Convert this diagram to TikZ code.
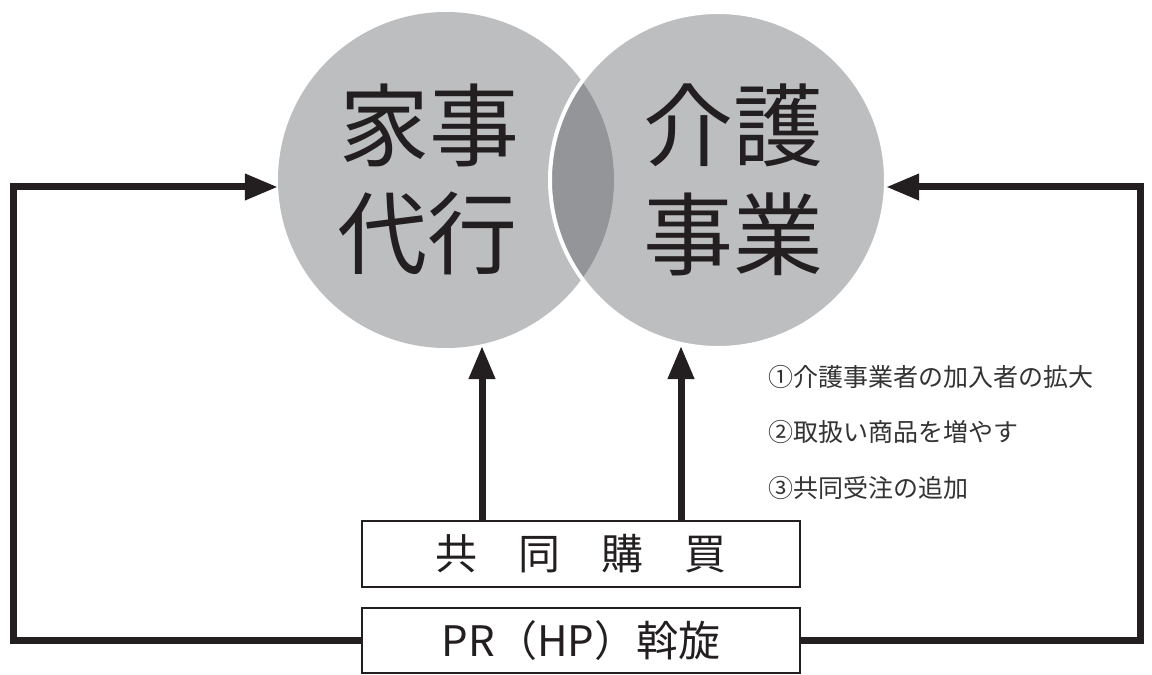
\documentclass[tikz,border=0pt]{standalone}
\usepackage{fontspec}
\newfontfamily\jp{Noto Sans CJK JP}
\usetikzlibrary{arrows.meta,calc}
\definecolor{circgray}{HTML}{BCBEC0}
\definecolor{lensgray}{HTML}{939598}
\definecolor{ink}{HTML}{231F20}
\begin{document}
\begin{tikzpicture}[x=1bp,y=-1bp,
  vcircle/.style={circle,minimum size=336bp,inner sep=0pt,fill=circgray},
  bigtext/.style={font=\jp\fontsize{90bp}{100bp}\selectfont,text=ink,inner sep=0pt},
  listtext/.style={font=\jp\fontsize{25bp}{30bp}\selectfont,text=black!80,anchor=west,inner sep=0pt},
  boxnode/.style={draw=ink,line width=1.8bp,fill=white,minimum width=438bp,inner sep=0pt,font=\jp\fontsize{42bp}{48bp}\selectfont,text=ink},
  arr/.style={draw=ink,line width=7bp,-{Triangle[length=33bp,width=25bp]}},
  conn/.style={draw=ink,line width=7bp}
]
\useasboundingbox (0,0) rectangle (1152,675);
% circles
\node[vcircle] (L) at (446,180) {};
\node[vcircle] (R) at (718,180) {};
\begin{scope}
  \clip (446,180) circle (168bp);
  \fill[lensgray] (718,180) circle (168bp);
\end{scope}
\draw[white,line width=4bp] (718,180) circle (168bp);
% circle texts
\node[bigtext] (t1) at (429,125) {家事};
\node[bigtext] (t2) at (427,233) {代行};
\node[bigtext] (t3) at (733,125) {介護};
\node[bigtext] (t4) at (733,234) {事業};
% list
\node[listtext] (l1) at (768,377) {①介護事業者の加入者の拡大};
\node[listtext] (l2) at (768,432) {②取扱い商品を増やす};
\node[listtext] (l3) at (768,488) {③共同受注の追加};
% boxes
\node[boxnode,minimum height=66bp] (B) at (581,554) {共\hspace{41bp}同\hspace{41bp}購\hspace{41bp}買};
\node[boxnode,minimum height=65bp] (P) at (581,640.5) {PR（HP）斡旋};
% connectors
\coordinate (c1) at (13.5,187);
\coordinate (c2) at (1140,187);
\coordinate (a1) at (482,346);
\coordinate (a2) at (681,346);
\draw[arr] (P.west) -| (c1) -- (c1 -| L.west);
\draw[arr] (P.east) -| (c2) -- (c2 -| R.east);
\draw[arr] (a1 |- B.north) -- (a1);
\draw[arr] (a2 |- B.north) -- (a2);
\end{tikzpicture}
\end{document}
